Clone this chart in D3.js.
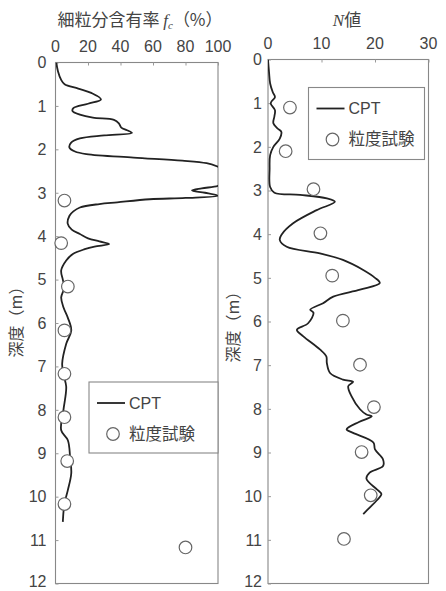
<!DOCTYPE html>
<html>
<head>
<meta charset="utf-8">
<script src="https://cdn.jsdelivr.net/npm/d3@7"></script>
<style>
  body { margin: 0; background: #fff; }
  text { font-family: "Liberation Sans", Arial, "Noto Sans CJK JP", sans-serif; fill: #444; }
  .jp { font-family: "Noto Sans CJK JP", sans-serif; }
</style>
</head>
<body>
<script>
// fines content (fc, %) from CPT, by depth (m)
var fcDepth = [0, 0.2, 0.4, 0.5, 0.6, 0.7, 0.85, 0.95, 1.05, 1.12, 1.2, 1.27, 1.32, 1.4, 1.5, 1.56, 1.62, 1.68, 1.75, 1.85, 1.96,
  2.05, 2.11, 2.19, 2.26, 2.32, 2.4, 2.5, 2.62, 2.78, 2.84, 2.9, 2.95, 3.0, 3.07, 3.12, 3.15, 3.22, 3.26, 3.34, 3.43, 3.53, 3.71,
  3.85, 3.95, 4.05, 4.12, 4.18, 4.24, 4.3, 4.41, 4.56, 4.79, 5.0, 5.18, 5.41, 5.65, 5.87, 6.17, 6.48, 6.94, 7.2, 7.47, 8.0, 8.47,
  8.7, 9.1, 9.46, 9.85, 10.16, 10.58];
var fcCpt = [0.5, 1.5, 3.5, 5.6, 14, 22, 28, 20, 11, 10.5, 15, 23, 36, 39, 40.5, 44, 47, 30, 15, 9.5, 8.6,
  12, 19, 48, 78, 93, 100, 106, 108, 103, 100, 90, 84, 92, 100, 80, 58, 38, 27, 15, 11, 8.6, 7.5,
  10, 15, 20, 27, 33, 24, 18, 10.7, 6.6, 3.5, 4.5, 5.5, 3.5, 5, 7.5, 9.7, 6.6, 4.1, 5, 6.6, 4.9, 3.5,
  7.6, 9, 9.7, 7.6, 5.5, 4.5];
// grain size test (粒度試験)
var fcTestDepth = [3.18, 4.16, 5.16, 6.17, 7.17, 8.17, 9.18, 10.17, 11.17];
var fcTest = [5.5, 3.5, 7.6, 5.5, 5.5, 5.5, 7.2, 5.5, 80];

// N value from CPT
var nDepth = [0, 0.3, 0.55, 0.75, 0.86, 1.0, 1.16, 1.3, 1.46, 1.58, 1.66, 1.81, 2.0, 2.19, 2.5, 2.92, 3.05, 3.1, 3.18, 3.26,
  3.45, 3.75, 4.0, 4.13, 4.29, 4.44, 4.59, 4.82, 5.0, 5.12, 5.27, 5.43, 5.58, 5.73, 5.8, 6.04, 6.19, 6.34, 6.64, 6.8, 6.95,
  7.18, 7.33, 7.38, 7.48, 7.71, 8.01, 8.13, 8.17, 8.3, 8.47, 8.55, 8.77, 8.93, 9.16, 9.31, 9.46, 9.6, 9.84, 9.95, 10.1, 10.26, 10.41];
var nCpt = [0, 0.2, 0.4, 0.9, 1.3, 0.5, 1.3, 1.2, 1.0, 1.8, 2.5, 2.2, 1.0, 0.4, 0.3, 0.4, 1.2, 6, 11, 12.5,
  9.1, 4.7, 2.6, 2.2, 3.5, 9.7, 14, 17.8, 20, 20.9, 17.2, 12.2, 10.3, 7.9, 8.5, 7.5, 5.4, 6.6, 9.7, 10.9, 11,
  11.6, 14, 15.9, 15, 15.6, 17.2, 18.4, 19.4, 17, 14.7, 15.9, 19.7, 20, 21.5, 21.5, 19, 18.4, 20.3, 21.2, 20.3, 19, 17.8];
var nTestDepth = [1.1, 2.1, 2.97, 3.98, 4.95, 5.98, 6.99, 7.96, 8.99, 9.98, 10.98];
var nTest = [4.1, 3.3, 8.5, 9.8, 12.0, 14, 17.2, 19.8, 17.5, 19.2, 14.2];

var depthTicks = d3.range(0, 13);
var fcTicks = [0, 20, 40, 60, 80, 100];
var nTicks = [0, 10, 20, 30];

var svg = d3.select('body').append('svg').attr('width', 446).attr('height', 591);

var defs = svg.append('defs');

function panel(opt) {
  var x = d3.scaleLinear().domain(opt.xDomain).range(opt.xRange);
  var y = d3.scaleLinear().domain([0, 12]).range(opt.yRange);
  var g = svg.append('g');

  defs.append('clipPath').attr('id', opt.id)
    .append('rect')
    .attr('x', opt.xRange[0]).attr('y', opt.yRange[0])
    .attr('width', opt.xRange[1] - opt.xRange[0]).attr('height', opt.yRange[1] - opt.yRange[0]);

  // frame
  g.append('rect')
    .attr('x', opt.xRange[0]).attr('y', opt.yRange[0])
    .attr('width', opt.xRange[1] - opt.xRange[0]).attr('height', opt.yRange[1] - opt.yRange[0])
    .attr('fill', 'none').attr('stroke', '#888').attr('stroke-width', 1.1);

  // top axis, ticks pointing in
  var top = g.append('g').attr('transform', 'translate(0,' + opt.yRange[0] + ')')
    .call(d3.axisBottom(x).tickValues(opt.xTicks).tickSize(3).tickFormat(''));
  top.select('.domain').remove();
  top.selectAll('line').attr('stroke', '#999');
  g.selectAll('.xlab').data(opt.xTicks).enter().append('text')
    .attr('x', function (d) { return x(d); })
    .attr('y', opt.yRange[0] - 11)
    .attr('text-anchor', 'middle')
    .attr('font-size', 16)
    .text(function (d) { return d; });

  // left axis
  var left = g.append('g').attr('transform', 'translate(' + opt.xRange[0] + ',0)')
    .call(d3.axisRight(y).tickValues(depthTicks).tickSize(3).tickFormat(''));
  left.select('.domain').remove();
  left.selectAll('line').attr('stroke', '#999');
  // last label sits right at the picture's bottom edge, keep it inside
  g.selectAll('.ylab').data(depthTicks).enter().append('text')
    .attr('x', opt.xRange[0] - opt.labelGap)
    .attr('y', function (d) { return Math.min(y(d), 581); })
    .attr('dy', '0.36em')
    .attr('text-anchor', 'end')
    .attr('font-size', 16)
    .text(function (d) { return d; });

  // depth title
  g.append('text')
    .attr('class', 'jp')
    .attr('transform', 'translate(' + opt.yTitleX + ',' + opt.yTitleY + ') rotate(-90)')
    .attr('text-anchor', 'middle')
    .attr('font-size', 16)
    .text('深度（m）');

  // CPT line
  var line = d3.line()
    .x(function (d) { return x(d[1]); })
    .y(function (d) { return y(d[0]); })
    .curve(d3.curveCatmullRom.alpha(0.5));
  g.append('path')
    .datum(d3.zip(opt.depth, opt.values))
    .attr('clip-path', 'url(#' + opt.id + ')')
    .attr('d', line)
    .attr('fill', 'none')
    .attr('stroke', '#222')
    .attr('stroke-width', 1.8);

  // test points
  g.selectAll('.pt').data(d3.zip(opt.testDepth, opt.test)).enter().append('circle')
    .attr('cx', function (d) { return x(d[1]); })
    .attr('cy', function (d) { return y(d[0]); })
    .attr('r', 6.3)
    .attr('fill', '#fff')
    .attr('stroke', '#666')
    .attr('stroke-width', 1.2);

  // legend
  var lg = g.append('g').attr('transform', 'translate(' + opt.legend[0] + ',' + opt.legend[1] + ')');
  lg.append('rect').attr('width', opt.legend[2]).attr('height', opt.legend[3])
    .attr('fill', '#fff').attr('stroke', '#888').attr('stroke-width', 1.1);
  lg.append('line').attr('x1', 8).attr('x2', 36).attr('y1', 21).attr('y2', 21)
    .attr('stroke', '#222').attr('stroke-width', 1.8);
  lg.append('text').attr('x', 40).attr('y', 21).attr('dy', '0.36em').attr('font-size', 16).text('CPT');
  lg.append('circle').attr('cx', 24).attr('cy', 52).attr('r', 6.3)
    .attr('fill', '#fff').attr('stroke', '#666').attr('stroke-width', 1.2);
  lg.append('text').attr('class', 'jp').attr('x', 40).attr('y', 52).attr('dy', '0.36em')
    .attr('font-size', 16.5).text('粒度試験');
}

panel({
  id: 'clipFc', xDomain: [0, 100], xRange: [55.5, 218], yRange: [62.5, 583.5],
  xTicks: fcTicks, labelGap: 9, yTitleX: 22, yTitleY: 318,
  depth: fcDepth, values: fcCpt, testDepth: fcTestDepth, test: fcTest,
  legend: [89, 382, 129, 71]
});

panel({
  id: 'clipN', xDomain: [0, 30], xRange: [268, 428.5], yRange: [59.5, 583.5],
  xTicks: nTicks, labelGap: 6, yTitleX: 239, yTitleY: 323,
  depth: nDepth, values: nCpt, testDepth: nTestDepth, test: nTest,
  legend: [308.5, 87.5, 116, 72]
});

// panel titles
var t1 = svg.append('text').attr('x', 140).attr('y', 26).attr('text-anchor', 'middle').attr('font-size', 17);
t1.append('tspan').attr('class', 'jp').text('細粒分含有率 ');
t1.append('tspan').attr('font-family', '"Liberation Serif", serif').attr('font-style', 'italic').text('f');
t1.append('tspan').attr('font-family', '"Liberation Serif", serif').attr('font-style', 'italic')
  .attr('font-size', 11).attr('dy', 3).text('c');
t1.append('tspan').attr('class', 'jp').attr('dy', -3).text('（%）');

var t2 = svg.append('text').attr('x', 347).attr('y', 26).attr('text-anchor', 'middle').attr('font-size', 17);
t2.append('tspan').attr('font-family', '"Liberation Serif", serif').attr('font-style', 'italic').text('N');
t2.append('tspan').attr('class', 'jp').text('値');
</script>
</body>
</html>
